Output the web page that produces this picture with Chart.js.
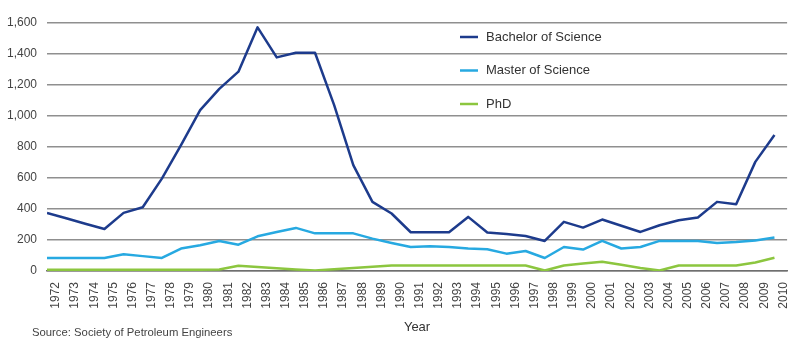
<!DOCTYPE html>
<html>
<head>
<meta charset="utf-8">
<title>Petroleum engineering degrees awarded, 1972–2010</title>
<script src="https://cdn.jsdelivr.net/npm/chart.js@4.4.1/dist/chart.umd.min.js"></script>
<style>
  html, body { margin: 0; padding: 0; background: #fff; }
  #wrap { width: 800px; height: 348px; }
</style>
</head>
<body>
<div id="wrap"><canvas id="chart" width="800" height="348"></canvas></div>
<script>
// Academic years on the horizontal axis
const years = [1972, 1973, 1974, 1975, 1976, 1977, 1978, 1979, 1980, 1981,
               1982, 1983, 1984, 1985, 1986, 1987, 1988, 1989, 1990, 1991,
               1992, 1993, 1994, 1995, 1996, 1997, 1998, 1999, 2000, 2001,
               2002, 2003, 2004, 2005, 2006, 2007, 2008, 2009, 2010];

// Degrees awarded per year
const bachelor = [375, 340, 305, 271, 375, 411, 596, 812, 1038, 1175,
                  1286, 1572, 1378, 1408, 1408, 1070, 683, 446, 371, 250,
                  250, 250, 349, 248, 238, 226, 194, 317, 280, 332,
                  292, 252, 295, 327, 345, 446, 431, 704, 877];
const master = [84, 84, 84, 84, 108, 96, 84, 145, 166, 194,
                170, 224, 252, 278, 243, 243, 243, 209, 181, 155,
                160, 155, 145, 140, 112, 129, 84, 155, 138, 194,
                145, 155, 194, 194, 194, 181, 187, 197, 216];
const phd = [8, 8, 8, 8, 8, 8, 8, 8, 8, 10,
             34, 26, 18, 10, 4, 12, 20, 28, 35, 35,
             35, 35, 35, 35, 35, 35, 3, 35, 48, 60,
             40, 20, 3, 35, 35, 35, 35, 55, 85];

const seriesNames = ['Bachelor of Science', 'Master of Science', 'PhD'];
const yTicks = [0, 200, 400, 600, 800, 1000, 1200, 1400, 1600];
const sourceNote = 'Source: Society of Petroleum Engineers';

const FONT = '"Liberation Sans", Arial, Helvetica, sans-serif';

const pairs = vals => vals.map((v, i) => ({ x: years[i], y: v }));

// Legend inside the plot plus the source line under the axis
const notes = {
  id: 'notes',
  afterDatasetsDraw(chart) {
    const ctx = chart.ctx;
    ctx.save();
    chart.data.datasets.forEach((ds, i) => {
      const y = 37 + i * 33.5;
      ctx.strokeStyle = ds.borderColor;
      ctx.lineWidth = 2.5;
      ctx.beginPath();
      ctx.moveTo(460, y);
      ctx.lineTo(478, y);
      ctx.stroke();
      ctx.fillStyle = '#333';
      ctx.font = '13px ' + FONT;
      ctx.textBaseline = 'middle';
      ctx.textAlign = 'left';
      ctx.fillText(ds.label, 486, y);
    });
    ctx.fillStyle = '#444';
    ctx.font = '11.3px ' + FONT;
    ctx.textBaseline = 'middle';
    ctx.textAlign = 'left';
    ctx.fillText(sourceNote, 32, 333);
    ctx.restore();
  }
};

new Chart(document.getElementById('chart'), {
  type: 'line',
  data: {
    datasets: [
      { label: seriesNames[0], data: pairs(bachelor), borderColor: '#1d3b8c' },
      { label: seriesNames[1], data: pairs(master), borderColor: '#27a9e1' },
      { label: seriesNames[2], data: pairs(phd), borderColor: '#8cc63f' }
    ]
  },
  options: {
    responsive: false,
    animation: false,
    layout: { padding: { left: 0, right: 8, top: 23, bottom: 0 } },
    elements: {
      line: { borderWidth: 2.5, tension: 0, borderJoinStyle: 'round' },
      point: { radius: 0, hoverRadius: 0 }
    },
    plugins: {
      legend: { display: false },
      tooltip: { enabled: false }
    },
    scales: {
      x: {
        type: 'linear',
        min: years[0],
        max: years[years.length - 1] + 0.66,
        afterFit(scale) { scale.height = 77; },
        afterBuildTicks(scale) { scale.ticks = years.map(v => ({ value: v })); },
        grid: { display: false, drawTicks: false },
        border: { display: true, color: '#6f6f6f', width: 1.5 },
        ticks: {
          autoSkip: false,
          minRotation: 90,
          maxRotation: 90,
          padding: 11,
          labelOffset: 9,
          color: '#444',
          font: { family: FONT, size: 12 },
          callback: v => String(v)
        },
        title: {
          display: true,
          text: 'Year',
          color: '#333',
          font: { family: FONT, size: 13 },
          padding: { top: 0, bottom: 13 }
        }
      },
      y: {
        min: 0,
        max: 1600,
        afterFit(scale) { scale.width = 47; },
        afterBuildTicks(scale) { scale.ticks = yTicks.map(v => ({ value: v })); },
        grid: { color: '#8f8f8f', lineWidth: 1.5, drawTicks: false },
        border: { display: false },
        ticks: {
          padding: 10,
          color: '#444',
          font: { family: FONT, size: 12 },
          callback: v => v.toLocaleString('en-US')
        }
      }
    }
  },
  plugins: [notes]
});
</script>
</body>
</html>
